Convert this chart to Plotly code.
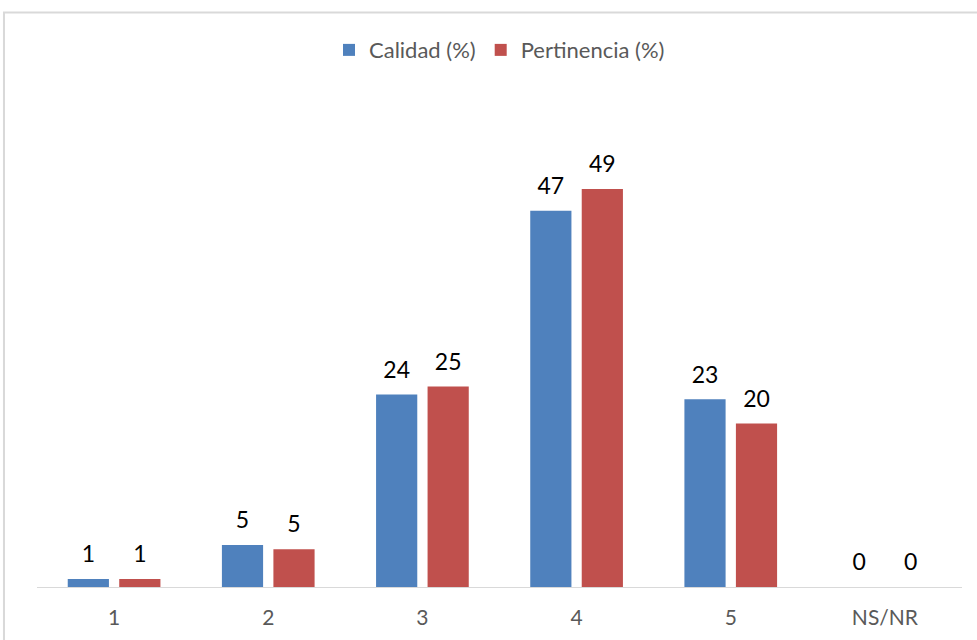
import plotly.graph_objects as go

categories = ["1", "2", "3", "4", "5", "NS/NR"]
calidad = [1.0, 5.2, 23.9, 46.7, 23.3, 0.0]
pertinencia = [1.0, 4.7, 24.9, 49.4, 20.3, 0.0]

BLUE = "#4F81BD"
RED = "#C0504D"
FONT = "Lato, 'Open Sans', sans-serif"
LABEL_TMPL = "<span style='font-size:23px'>%{y:.0f}</span><br> "

fig = go.Figure()
fig.add_trace(go.Bar(
    x=categories, y=calidad, name="Calidad (%)",
    marker=dict(color=BLUE, line=dict(width=0)),
    texttemplate=LABEL_TMPL, textposition="outside", cliponaxis=False,
    textfont=dict(size=9, color="#000000", family=FONT),
))
fig.add_trace(go.Bar(
    x=categories, y=pertinencia, name="Pertinencia (%)",
    marker=dict(color=RED, line=dict(width=0)),
    texttemplate=LABEL_TMPL, textposition="outside", cliponaxis=False,
    textfont=dict(size=9, color="#000000", family=FONT),
))

fig.update_layout(
    width=977, height=640,
    margin=dict(l=37, r=15, t=144, b=53),
    paper_bgcolor="white", plot_bgcolor="white",
    barmode="group", bargap=0.332, bargroupgap=0.2,
    font=dict(family=FONT, color="#595959"),
    showlegend=True,
    legend=dict(orientation="h", x=0.5, xanchor="center", y=1.212, yanchor="middle",
                font=dict(size=22, color="#595959"), itemwidth=30, traceorder="normal"),
    xaxis=dict(showline=True, linecolor="#D9D9D9", linewidth=1.3, showgrid=False,
               ticks="", tickfont=dict(size=21, color="#595959"), ticklabelstandoff=12,
               fixedrange=True),
    yaxis=dict(visible=False, range=[0, 55], showgrid=False, zeroline=False, fixedrange=True),
    shapes=[dict(type="rect", xref="paper", yref="paper",
                 x0=-0.0357, x1=1.1, y0=-0.2, y1=1.297,
                 line=dict(color="#D9D9D9", width=2), fillcolor="rgba(0,0,0,0)", layer="below")],
)

fig.write_html("out.html", config={"displayModeBar": False},
               post_script="document.body.style.margin='0';document.body.style.padding='0';")
